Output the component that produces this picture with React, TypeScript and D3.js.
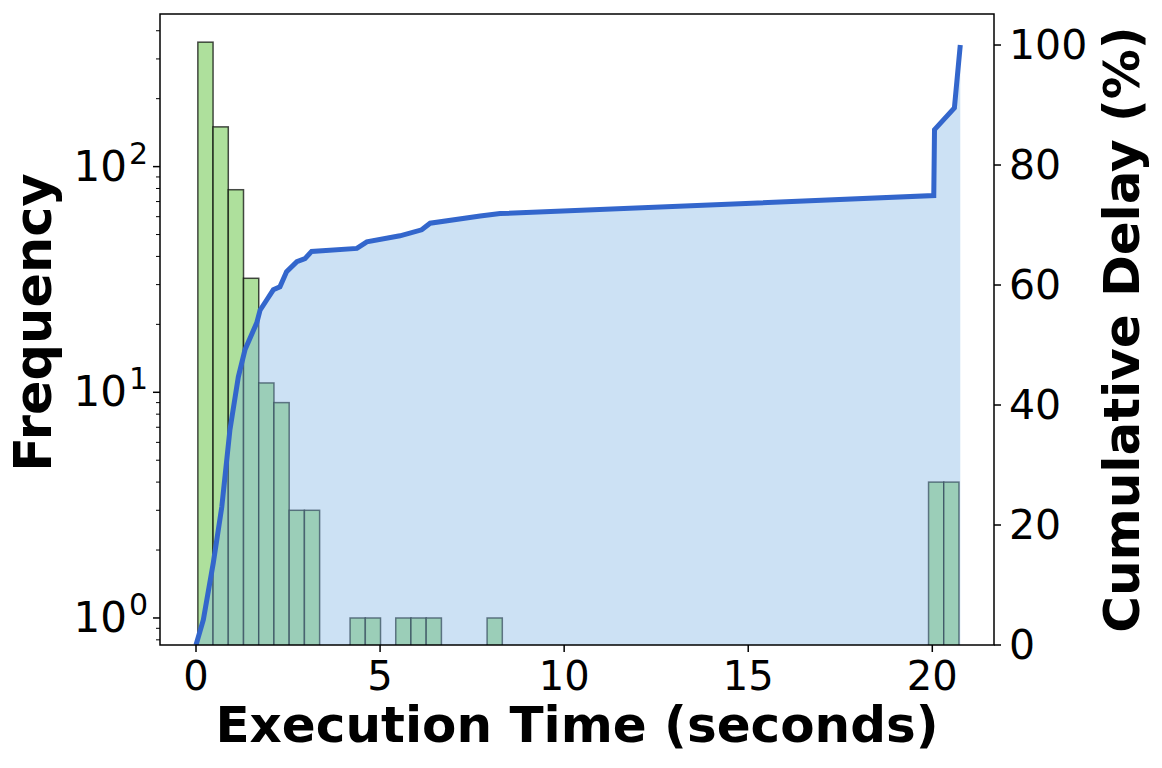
import React from 'react';
import * as d3 from 'd3';

// Histogram (frequency, log scale)
const binStart = 0.05;
const binWidth = 0.4135;
const binCounts = [
  356, 150, 79, 32, 11, 9, 3, 3, 0, 0,
  1, 1, 0, 1, 1, 1, 0, 0, 0, 1,
  0, 0, 0, 0, 0, 0, 0, 0, 0, 0,
  0, 0, 0, 0, 0, 0, 0, 0, 0, 0,
  0, 0, 0, 0, 0, 0, 0, 0, 4, 4,
];

// Cumulative delay curve (%)
const cumTime = [0.0, 0.2, 0.47, 0.7, 0.92, 1.15, 1.33, 1.65, 1.74, 1.92, 2.1, 2.28, 2.46, 2.74, 2.96, 3.14, 4.37, 4.64, 5.54, 6.13, 6.36, 7.72, 8.26, 20.04, 20.06, 20.6, 20.76];
const cumPct = [0.0, 4.2, 13.7, 23.0, 35.8, 44.7, 49.2, 53.7, 55.8, 57.5, 59.2, 59.7, 62.2, 63.9, 64.4, 65.6, 66.1, 67.2, 68.2, 69.2, 70.3, 71.5, 71.9, 74.9, 85.9, 89.5, 100];

const xTicks = [0, 5, 10, 15, 20];
const leftTicks = [1, 10, 100];
const leftTickExp = ['0', '1', '2'];
const rightTicks = [0, 20, 40, 60, 80, 100];

const W = 1162, H = 768;
const L = 160, R = 994, T = 14, B = 645;
const FONT = 'DejaVu Sans';

export default function App() {
  const x = d3.scaleLinear().domain([-0.978, 21.676]).range([L, R]);
  const yL = d3.scaleLog().domain([0.759, 474.5]).range([B, T]);
  const yR = d3.scaleLinear().domain([0, 105.17]).range([B, T]);

  const minor: number[] = [];
  [0.1, 1, 10, 100].forEach((d) => {
    for (let k = 2; k <= 9; k++) {
      const v = d * k;
      if (v >= 0.759 && v <= 474.5) minor.push(v);
    }
  });

  const pts = cumTime.map((t, i) => [t, cumPct[i]] as [number, number]);
  const area = d3.area<[number, number]>().x((d) => x(d[0])).y0(yR(0)).y1((d) => yR(d[1]));
  const line = d3.line<[number, number]>().x((d) => x(d[0])).y((d) => yR(d[1]));

  return (
    <svg width={W} height={H} style={{ position: 'absolute', left: 0, top: 0, background: '#fff' }} fontFamily={FONT}>
      <defs>
        <clipPath id="plot"><rect x={L} y={T} width={R - L} height={B - T} /></clipPath>
      </defs>
      <g clipPath="url(#plot)">
        {binCounts.map((c, i) => {
          if (c <= 0) return null;
          const x0 = x(binStart + i * binWidth);
          const x1 = x(binStart + (i + 1) * binWidth);
          const yt = yL(c);
          return (
            <rect key={i} x={x0} y={yt} width={x1 - x0} height={B + 5 - yt}
              fill="#aee09c" stroke="#000" strokeOpacity={0.7} strokeWidth={1.5} />
          );
        })}
        <path d={area(pts) || ''} fill="rgb(128,180,228)" fillOpacity={0.4} />
        <path d={line(pts) || ''} fill="none" stroke="#3366cc" strokeWidth={5} strokeLinejoin="miter" />
      </g>
      <rect x={L} y={T} width={R - L} height={B - T} fill="none" stroke="#000" strokeWidth={1.5} />
      {/* x ticks */}
      {xTicks.map((t) => (
        <g key={t}>
          <line x1={x(t)} x2={x(t)} y1={B} y2={B + 7} stroke="#000" strokeWidth={1.5} />
          <text x={x(t)} y={690} fontSize={40} textAnchor="middle">{t}</text>
        </g>
      ))}
      {/* left ticks */}
      {leftTicks.map((t, i) => (
        <g key={t}>
          <line x1={L - 7} x2={L} y1={yL(t)} y2={yL(t)} stroke="#000" strokeWidth={1.5} />
          <text x={148} y={yL(t) + 14} fontSize={42} textAnchor="end">
            10<tspan dx={2} dy={-17} fontSize={30}>{leftTickExp[i]}</tspan>
          </text>
        </g>
      ))}
      {minor.map((t) => (
        <line key={t} x1={L - 4} x2={L} y1={yL(t)} y2={yL(t)} stroke="#000" strokeWidth={1} />
      ))}
      {/* right ticks */}
      {rightTicks.map((t) => (
        <g key={t}>
          <line x1={R} x2={R + 7} y1={yR(t)} y2={yR(t)} stroke="#000" strokeWidth={1.5} />
          <text x={1009} y={yR(t) + 14} fontSize={41} textAnchor="start">{t}</text>
        </g>
      ))}
      <text x={(L + R) / 2} y={742} fontSize={50} fontWeight="bold" textAnchor="middle">Execution Time (seconds)</text>
      <text transform={`translate(51,${(T + B) / 2 - 7}) rotate(-90)`} fontSize={51} fontWeight="bold" textAnchor="middle">Frequency</text>
      <text transform={`translate(1139,${(T + B) / 2}) rotate(-90)`} fontSize={50} fontWeight="bold" textAnchor="middle">Cumulative Delay (%)</text>
    </svg>
  );
}
